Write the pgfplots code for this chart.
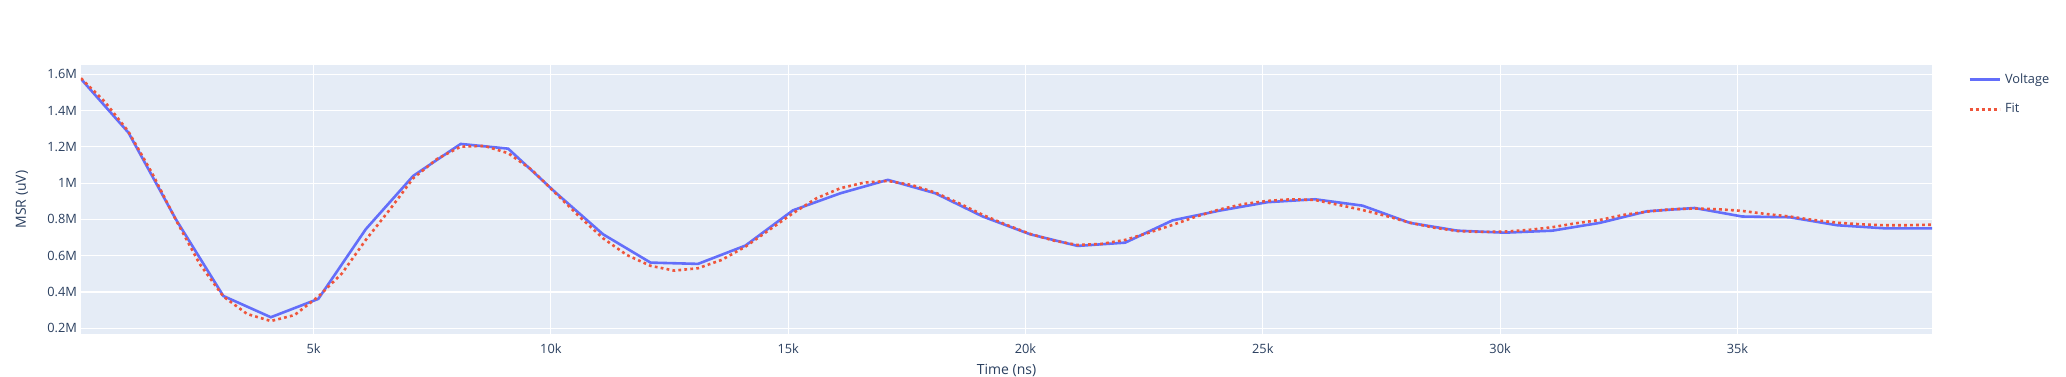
\documentclass[border=0pt]{standalone}
\usepackage{pgfplots}
\pgfplotsset{compat=1.18}
\usepackage{fontspec}
\setmainfont{Open Sans}
\definecolor{plotbg}{HTML}{E5ECF6}
\definecolor{txt}{HTML}{2A3F5F}
\definecolor{volt}{HTML}{636EFA}
\definecolor{fitc}{HTML}{EF553B}
\begin{document}
\begin{tikzpicture}
\begin{axis}[
  name=ax,
  scale only axis,
  width=925.5pt, height=134.65pt,
  xmin=100, xmax=39100,
  ymin=167000, ymax=1651000,
  scaled ticks=false,
  axis background/.style={fill=plotbg},
  axis line style={draw=none},
  tick style={draw=none},
  grid=major,
  major grid style={white, line width=0.55pt},
  xtick={5000,10000,15000,20000,25000,30000,35000},
  xticklabels={5k,10k,15k,20k,25k,30k,35k},
  ytick={200000,400000,600000,800000,1000000,1200000,1400000,1600000},
  yticklabels={0.2M,0.4M,0.6M,0.8M,1M,1.2M,1.4M,1.6M},
  /pgf/number format/assume math mode=true,
  ticklabel style={font=\fontsize{6.4}{7.5}\selectfont, text=txt},
  xticklabel style={yshift=-1pt},
  yticklabel style={xshift=1.5pt},
  xlabel={Time (ns)},
  ylabel={MSR (uV)},
  label style={font=\fontsize{7}{8.5}\selectfont, text=txt},
  xlabel style={at={(axis description cs:0.5,-0.1359)}, anchor=center},
  ylabel style={at={(axis description cs:-0.0319,0.5)}, anchor=center},
  legend style={draw=none, fill=none, at={(axis description cs:1,1)}, anchor=north west,
    xshift=18pt, yshift=-2pt, font=\fontsize{6.4}{7.5}\selectfont, text=txt,
    row sep=4.5pt, inner xsep=0pt, inner ysep=0pt},
  legend cell align=left,
  legend image code/.code={\draw[#1] (0pt,0pt) -- (15pt,0pt);},
]
\addplot[volt, line width=1.3pt] coordinates {
(100,1574000) (1100,1278000) (2100,800000) (3100,378000) (4100,261000)
(5100,362000) (6100,746000) (7100,1040000) (8100,1216000) (9100,1190000)
(10100,948000) (11100,718000) (12100,562000) (13100,555000) (14100,656000)
(15100,850000) (16100,944000) (17100,1018000) (18100,944000) (19100,816000)
(20100,718000) (21100,654000) (22100,672000) (23100,795000) (24100,849000)
(25100,895000) (26100,911000) (27100,876000) (28100,781000) (29100,738000)
(30100,727000) (31100,738000) (32100,781000) (33100,845000) (34100,863000)
(35100,816000) (36100,812000) (37100,768000) (38100,751000) (39100,751000)
};
\addlegendentry{Voltage}
\addplot[fitc, line width=1.3pt, dash pattern=on 1.4pt off 1.6pt] coordinates {
(100,1578000) (600,1449000) (1100,1284000) (1600,1054000) (2100,797000)
(2600,555000) (3100,375000) (3600,279000) (4100,240000) (4600,273000)
(5100,375000) (5600,503000) (6100,687000) (6600,852000) (7100,1027000)
(7600,1133000) (8100,1201000) (8600,1205000) (9100,1165000) (9600,1073000)
(10100,944000) (10600,816000) (11100,696000) (11600,604000) (12100,544000)
(12600,518000) (13100,531000) (13600,577000) (14100,650000) (14600,742000)
(15100,834000) (15600,917000) (16100,972000) (16600,1003000) (17100,1012000)
(17600,990000) (18100,948000) (18600,889000) (19100,825000) (19600,770000)
(20100,720000) (20600,683000) (21100,659000) (21600,665000) (22100,687000)
(22600,727000) (23100,770000) (23600,816000) (24100,856000) (24600,885000)
(25100,902000) (25600,911000) (26100,907000) (26600,880000) (27100,852000)
(27600,819000) (28100,782000) (28600,755000) (29100,736000) (29600,731000)
(30100,733000) (30600,742000) (31100,757000) (31600,779000) (32100,797000)
(32600,825000) (33100,843000) (33600,856000) (34100,860000) (34600,856000)
(35100,847000) (35600,830000) (36100,816000) (36600,797000) (37100,782000)
(37600,773000) (38100,768000) (38600,768000) (39100,771000)
};
\addlegendentry{Fit}
\end{axis}
\pgfresetboundingbox
\useasboundingbox ([xshift=-40.5pt,yshift=-21.35pt]ax.south west) rectangle ([xshift=67pt,yshift=32.5pt]ax.north east);
\end{tikzpicture}
\end{document}
